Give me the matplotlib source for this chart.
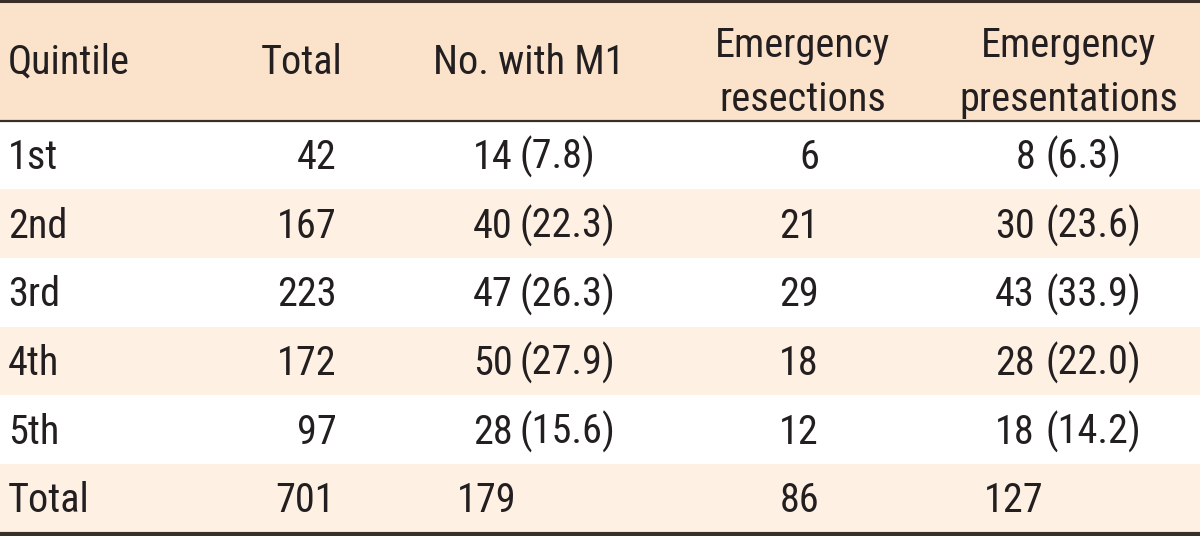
import matplotlib.pyplot as plt
from matplotlib.patches import Rectangle

# table contents
quintiles = ['1st', '2nd', '3rd', '4th', '5th']
totals = [42, 167, 223, 172, 97]
m1_n = [14, 40, 47, 50, 28]
m1_pct = [7.8, 22.3, 26.3, 27.9, 15.6]
em_resections = [6, 21, 29, 18, 12]
em_pres_n = [8, 30, 43, 28, 18]
em_pres_pct = [6.3, 23.6, 33.9, 22.0, 14.2]
sum_row = ['Total', 701, 179, 86, 127]

headers = [['Quintile'], ['Total'], ['No. with M1'],
           ['Emergency', 'resections'], ['Emergency', 'presentations']]

plt.rcParams['font.family'] = ['Roboto Condensed', 'DejaVu Sans']
plt.rcParams['font.weight'] = 'normal'

W, H = 1200, 536
fig = plt.figure(figsize=(12, 5.36), dpi=100)
ax = fig.add_axes([0, 0, 1, 1])
ax.set_xlim(0, W)
ax.set_ylim(H, 0)
ax.axis('off')

txt = '#231f20'
line_c = '#3a2e28'
head_bg = '#fbe3cb'
band_bg = '#fef1e4'
fs = 29

head_h = 120.5
row_h = 68.7
n_rows = len(quintiles) + 1

# backgrounds
ax.add_patch(Rectangle((0, 0), W, head_h, color=head_bg, lw=0))
for i in range(n_rows):
    if i % 2 == 1:
        ax.add_patch(Rectangle((0, head_h + i * row_h), W, row_h, color=band_bg, lw=0))

# rules
ax.axhline(1, color=line_c, lw=2.2)
ax.axhline(head_h, color=line_c, lw=1.6)
ax.axhline(head_h + n_rows * row_h + 1.5, color=line_c, lw=3)

# header text
head_x = [(8, 'left'), (343, 'right'), (529, 'center'), (803, 'center'), (1069, 'center')]
for (x, ha), lines in zip(head_x, headers):
    if len(lines) == 1:
        ax.text(x, 74, lines[0], ha=ha, va='baseline', fontsize=fs, color=txt)
    else:
        for j, s in enumerate(lines):
            ax.text(x, 57 + 54 * j, s, ha=ha, va='baseline', fontsize=fs, color=txt)

# body rows
for i in range(len(quintiles)):
    yb = head_h + i * row_h + 48.5
    ax.text(8, yb, quintiles[i], ha='left', va='baseline', fontsize=fs, color=txt)
    ax.text(337, yb, str(totals[i]), ha='right', va='baseline', fontsize=fs, color=txt)
    ax.text(513, yb, str(m1_n[i]), ha='right', va='baseline', fontsize=fs, color=txt)
    ax.text(520, yb, f'({m1_pct[i]:.1f})', ha='left', va='baseline', fontsize=fs, color=txt)
    ax.text(819, yb, str(em_resections[i]), ha='right', va='baseline', fontsize=fs, color=txt)
    ax.text(1035, yb, str(em_pres_n[i]), ha='right', va='baseline', fontsize=fs, color=txt)
    ax.text(1045, yb, f'({em_pres_pct[i]:.1f})', ha='left', va='baseline', fontsize=fs, color=txt)

# total row
yb = head_h + len(quintiles) * row_h + 48.5
ax.text(8, yb, sum_row[0], ha='left', va='baseline', fontsize=fs, color=txt)
ax.text(335, yb, str(sum_row[1]), ha='right', va='baseline', fontsize=fs, color=txt)
ax.text(457, yb, str(sum_row[2]), ha='left', va='baseline', fontsize=fs, color=txt)
ax.text(820, yb, str(sum_row[3]), ha='right', va='baseline', fontsize=fs, color=txt)
ax.text(984, yb, str(sum_row[4]), ha='left', va='baseline', fontsize=fs, color=txt)

fig.savefig('out.png', dpi=100)
